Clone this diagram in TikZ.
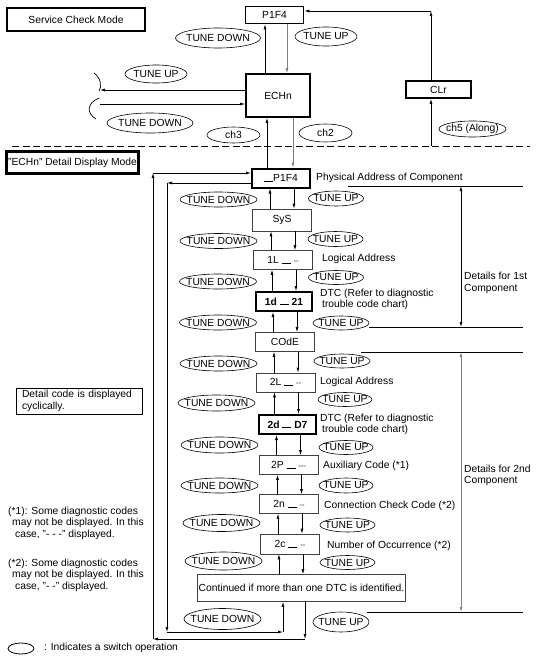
\documentclass[tikz,border=0pt]{standalone}
\usepackage{fontspec}
\setmainfont{Liberation Sans}
\usetikzlibrary{shapes.geometric,arrows.meta,calc}

\newcommand{\segline}[1][0.8pt]{\rule[-0.3pt]{9pt}{#1}}
\newcommand{\tinydash}[1]{{\fontsize{7.5}{7.5}\selectfont #1}}

\begin{document}
\begin{tikzpicture}[x=1pt, y=-1pt,
  every node/.style={font=\fontsize{10.3}{11.4}\selectfont},
  mode/.style={rectangle, draw, line width=2.6pt, inner sep=0pt},
  panel/.style={rectangle, draw, line width=1.8pt, inner sep=0pt},
  disp/.style={rectangle, draw=black!75, line width=0.7pt, minimum width=59pt, minimum height=19pt, inner sep=0pt},
  dispb/.style={disp, draw=black, line width=2pt},
  tune/.style 2 args={ellipse, draw, line width=0.6pt, inner xsep=-8pt, inner ysep=0pt, minimum width=#1, minimum height=#2},
  note/.style={anchor=west, align=left, inner sep=0pt},
  arrow/.style={-{Latex[length=5pt, width=3pt]}, line width=0.7pt},
  twoway/.style={{Latex[length=5pt, width=3pt]}-{Latex[length=5pt, width=3pt]}, line width=0.7pt},
]
\useasboundingbox (0,0) rectangle (539,669);

% Service check mode
\node[mode, minimum width=138pt, minimum height=23pt] (scm) at (76,19.5) {Service Check Mode};
\node[panel, minimum width=58pt, minimum height=17pt] (p1f4) at (274.5,15) {P1F4};
\node[panel, minimum width=64pt, minimum height=43pt] (echn) at (278,95.5) {ECHn};
\node[panel, minimum width=65pt, minimum height=17pt] (clr) at (438.5,89.5) {CLr};

\node[tune={85pt}{20pt}] (tdA) at (218,38) {TUNE DOWN};
\node[tune={62pt}{19pt}] (tuA) at (326,36.5) {TUNE UP};
\node[tune={62pt}{18pt}] (tuB) at (156,74) {TUNE UP};
\node[tune={86pt}{20pt}] (tdB) at (150,123) {TUNE DOWN};
\node[tune={53pt}{16pt}] (ch3) at (233.5,135) {ch3};
\node[tune={53pt}{18pt}] (ch2) at (325.5,133) {ch2};
\node[tune={67pt}{16pt}] (ch5) at (472.5,129) {ch5 (Along)};

\coordinate (dl) at (12,146);
\coordinate (dr) at (530,146);
\draw[dash pattern=on 7pt off 3.5pt, line width=0.8pt] (dl) -- (dr);

\coordinate (k) at (431,11);
\draw[arrow] (clr.north -| k) -- (k);
\draw[arrow] (k) -- (k -| p1f4.east);
\draw[arrow] (k |- dl) -- (clr.south -| k);

\coordinate (e1) at ($(echn.north)+(-13,0)$);
\coordinate (e2) at ($(echn.north)+(9,0)$);
\draw[arrow] (e1) -- (e1 |- p1f4.south);
\draw[arrow, gray] (e2 |- p1f4.south) -- (e2);

\coordinate (brk) at (100,97);
\coordinate (e3) at ($(echn.west)+(0,-5.5)$);
\coordinate (e4) at ($(echn.west)+(0,8.5)$);
\draw[arrow] (e3) -- (e3 -| brk);
\draw[arrow] (e4 -| brk) -- (e4);
\draw[line width=0.7pt] (94,73) .. controls (101,78) and (102,87) .. (99,91);
\draw[line width=0.7pt] (99,98) .. controls (87,103) and (86,113) .. (96,119);

% Detail display mode
\node[mode, minimum width=132pt, minimum height=22pt] (ddm) at (72.5,162.5) {"ECHn" Detail Display Mode};

\node[dispb, minimum width=58pt] (d0) at (281,178) {\segline P1F4};
\node[disp, minimum height=22pt] (sys) at (282,220) {SyS};
\node[disp] (l1) at (283,260) {1L \segline\ \tinydash{-{}-}};
\node[dispb, minimum width=56pt] (c1) at (284,301.5) {\bfseries 1d \segline[1.4pt] 21};
\node[disp] (code) at (285,342) {COdE};
\node[disp] (l2) at (285.5,382.5) {2L \segline\ \tinydash{-{}-}};
\node[dispb, minimum width=57pt] (c2) at (287.5,424.5) {\bfseries 2d \segline[1.4pt] D7};
\node[disp] (aux) at (288.5,465) {2P \segline\ \tinydash{-{}-{}-}};
\node[disp] (conn) at (289,504) {2n \segline\ \tinydash{-{}-}};
\node[disp, minimum height=20pt] (occ) at (290,544) {2c \segline\ \tinydash{-{}-}};
\node[disp, minimum width=208pt, minimum height=27pt] (cont) at (301.5,588) {Continued if more than one DTC is identified.};

\coordinate (e5) at ($(d0.north)+(-14,0)$);
\coordinate (e6) at ($(d0.north)+(12,0)$);
\draw[arrow] (e5) -- (e5 |- echn.south);
\draw[arrow, gray] (e6 |- echn.south) -- (e6);

\foreach \a/\b in {d0/sys, sys/l1, l1/c1, c1/code, code/l2, l2/c2, c2/aux, aux/conn, conn/occ, occ/cont} {
  \coordinate (up) at ($(\a.south)+(-11,0)$);
  \coordinate (dn) at ($(\a.south)+(13,0)$);
  \draw[arrow] (up |- \b.north) -- (up);
  \draw[arrow] (dn) -- (dn |- \b.north);
}

% outer return
\coordinate (ob) at ($(cont.south)+(3.5,0)$);
\coordinate (oa) at (153,639);
\coordinate (oc) at (153,173);
\draw[arrow] (ob) -- (ob |- oa);
\draw[arrow] (ob |- oa) -- (oa);
\draw[arrow] (oa) -- (oc);
\draw[arrow] (oc) -- (oc -| d0.west);

% inner return
\coordinate (ia) at (167,183);
\coordinate (ib) at (167,632);
\coordinate (ic) at ($(cont.south)+(-18.5,0)$);
\draw[arrow] (d0.west |- ia) -- (ia);
\draw[arrow] (ia) -- (ib);
\draw[arrow] (ib) -- (ib -| ic);
\draw[arrow] (ib -| ic) -- (ic);

% switch operations
\node[tune={77pt}{15pt}] (td1) at (218.5,199.5) {TUNE DOWN};
\node[tune={55pt}{15pt}] (tu1) at (336,198.5) {TUNE UP};
\node[tune={77pt}{15pt}] (td2) at (218.5,241) {TUNE DOWN};
\node[tune={55pt}{15pt}] (tu2) at (335.5,239) {TUNE UP};
\node[tune={77pt}{15pt}] (td3) at (218,281.5) {TUNE DOWN};
\node[tune={55pt}{14pt}] (tu3) at (336,277.5) {TUNE UP};
\node[tune={77pt}{15pt}] (td4) at (218,322.5) {TUNE DOWN};
\node[tune={56pt}{14pt}] (tu4) at (341,323) {TUNE UP};
\node[tune={77pt}{15pt}] (td5) at (218.5,363.5) {TUNE DOWN};
\node[tune={56pt}{14pt}] (tu5) at (342,361) {TUNE UP};
\node[tune={77pt}{16pt}] (td6) at (216.5,403) {TUNE DOWN};
\node[tune={54pt}{14pt}] (tu6) at (345,399.5) {TUNE UP};
\node[tune={77pt}{16pt}] (td7) at (219.5,445) {TUNE DOWN};
\node[tune={54pt}{14pt}] (tu7) at (346,447.5) {TUNE UP};
\node[tune={77pt}{15pt}] (td8) at (219.5,485.5) {TUNE DOWN};
\node[tune={54pt}{15pt}] (tu8) at (346,485.5) {TUNE UP};
\node[tune={77pt}{17pt}] (td9) at (221.5,523) {TUNE DOWN};
\node[tune={55pt}{14pt}] (tu9) at (347.5,525) {TUNE UP};
\node[tune={77pt}{18pt}] (td10) at (223.5,561) {TUNE DOWN};
\node[tune={55pt}{14pt}] (tu10) at (347.5,562.5) {TUNE UP};
\node[tune={77pt}{21pt}] (td11) at (222.5,619) {TUNE DOWN};
\node[tune={56pt}{20pt}] (tu11) at (341,622) {TUNE UP};

% display meanings
\node[note] (pa) at (316,177.5) {Physical Address of Component};
\node[note] (la1) at (322,259) {Logical Address};
\node[note] (dtc1) at (320,299.5) {DTC (Refer to diagnostic\\\hspace{2pt}trouble code chart)};
\node[note] (la2) at (320,382) {Logical Address};
\node[note] (dtc2) at (320,424.5) {DTC (Refer to diagnostic\\\hspace{2pt}trouble code chart)};
\node[note] (auxl) at (323,466) {Auxiliary Code (*1)};
\node[note] (connl) at (324,505.5) {Connection Check Code (*2)};
\node[note] (occl) at (327,545.5) {Number of Occurrence (*2)};

% component ranges
\coordinate (be) at (523,0);
\coordinate (bx) at (461,0);
\coordinate (b1) at (348,186);
\coordinate (b2) at (369,327);
\coordinate (b3) at (361,352);
\coordinate (b4) at (367,612);
\draw[line width=0.8pt] (b1) -- (b1 -| be);
\draw[line width=0.8pt] (b2) -- (b2 -| be);
\draw[line width=0.8pt] (b3) -- (b3 -| be);
\draw[line width=0.8pt] (b4) -- (b4 -| be);
\draw[twoway] (bx |- b1) -- (bx |- b2);
\draw[twoway, gray] (bx |- b3) -- (bx |- b4);
\node[note] (first) at (464,283) {Details for 1st\\Component};
\node[note] (second) at (464,475.5) {Details for 2nd\\Component};

% left notes
\node[draw, line width=0.8pt, text width=114pt, inner xsep=6pt, inner ysep=2pt, minimum height=26pt, align=left] (cyc) at (79,401) {Detail code is displayed\\cyclically.};
\node[note] (n1) at (8,523) {(*1): Some diagnostic codes\\\hspace{4pt}may not be displayed. In this\\\hspace{7pt}case, "- - -" displayed.};
\node[note] (n2) at (8,575) {(*2): Some diagnostic codes\\\hspace{4pt}may not be displayed. In this\\\hspace{7pt}case, "- -" displayed.};

\node[ellipse, draw, line width=0.8pt, inner sep=0pt, minimum width=26pt, minimum height=11pt] (key) at (21,648.5) {};
\node[note] (keyl) at (44,648) {: Indicates a switch operation};

\end{tikzpicture}
\end{document}
